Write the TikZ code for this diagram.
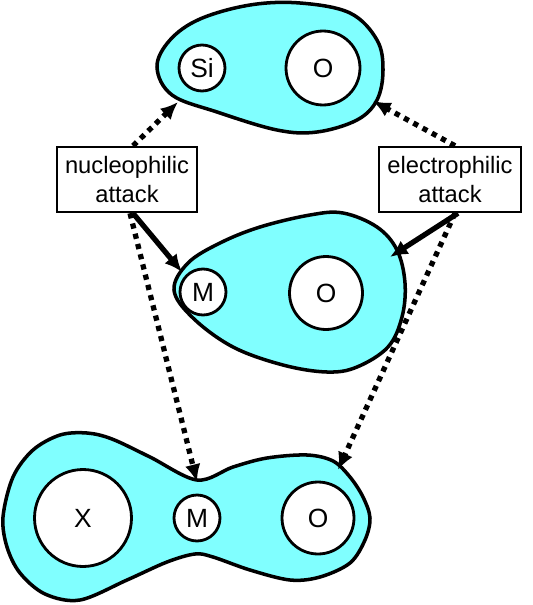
\documentclass[tikz,border=0pt]{standalone}
\usepackage{fontspec}
\setmainfont{Liberation Sans}
\usetikzlibrary{arrows.meta,calc}
\definecolor{BlobCyan}{HTML}{80FFFF}

\begin{document}
\begin{tikzpicture}[x=0.02cm,y=-0.02cm,>={Latex[length=10pt,width=9pt]},
    blob/.style={draw,line width=2pt,fill=BlobCyan},
    atom/.style={circle,draw,line width=1.6pt,fill=white,inner sep=0pt,font=\fontsize{15}{17}\selectfont},
    attackbox/.style={draw,line width=1.4pt,fill=white,minimum width=2.8cm,minimum height=1.3cm,align=center,inner sep=1pt,font=\fontsize{13.5}{16}\selectfont},
    solidarrow/.style={->,line width=3pt},
    dotarrow/.style={->,line width=3pt,dash pattern=on 3pt off 3pt}]
  \useasboundingbox (0,0) rectangle (533,605);

  % top blob: Si and O
  \draw[blob] plot[smooth cycle,tension=0.6] coordinates {(157,67) (170,40) (200,19) (250,5) (300,3) (350,13) (377,40) (383,70) (377,100) (357,120) (317,132) (277,130) (217,112) (172,95)};
  \node[atom,minimum size=0.92cm] (si) at (202,68) {Si};
  \node[atom,minimum size=1.48cm] (otop) at (323,68) {O};

  % middle blob: M and O
  \draw[blob] plot[smooth cycle,tension=0.6] coordinates {(174,290) (188,263) (220,243) (260,227) (310,215) (343,213) (377,227) (397,250) (405,283) (402,317) (388,347) (357,367) (327,372) (283,365) (233,347) (193,318)};
  \node[atom,minimum size=0.92cm] (mmid) at (203,292) {M};
  \node[atom,minimum size=1.46cm] (omid) at (326,293) {O};

  % bottom blob: X, M and O
  \draw[blob] plot[smooth cycle,tension=0.55] coordinates {(3,517) (13,477) (33,450) (60,435) (87,433) (112,439) (150,457) (197,480) (233,467) (267,458) (307,455) (333,461) (350,477) (363,497) (370,518) (365,540) (350,563) (320,577) (290,580) (250,570) (213,557) (195,554) (167,562) (127,580) (80,600) (45,594) (20,573) (7,547)};
  \node[atom,minimum size=1.94cm] (xbot) at (83,518) {X};
  \node[atom,minimum size=0.92cm] (mbot) at (197,518) {M};
  \node[atom,minimum size=1.44cm] (obot) at (318,518) {O};

  % attack boxes
  \node[attackbox] (nuc) at (127,179.5) {nucleophilic\\attack};
  \node[attackbox,minimum width=2.84cm] (elec) at (450,179.5) {electrophilic\\attack};

  % arrow ends on the blobs
  \coordinate (sitip) at (178,102);
  \coordinate (otip) at (373,101);
  \coordinate (mmidtip) at (182,272);
  \coordinate (omidtip) at (390,257);
  \coordinate (mbottip) at (197,482);
  \coordinate (obottip) at (338,470);

  \draw[dotarrow] ([xshift=0.12cm]nuc.north) -- (sitip);
  \draw[dotarrow] ([xshift=0.1cm]elec.north) -- (otip);
  \draw[solidarrow] ([xshift=0.12cm]nuc.south) -- (mmidtip);
  \draw[solidarrow] ([xshift=0.16cm]elec.south) -- (omidtip);
  \draw[dotarrow] ([xshift=0.06cm]nuc.south) -- (mbottip);
  \draw[dotarrow] ([xshift=0.1cm]elec.south) -- (obottip);
\end{tikzpicture}
\end{document}
